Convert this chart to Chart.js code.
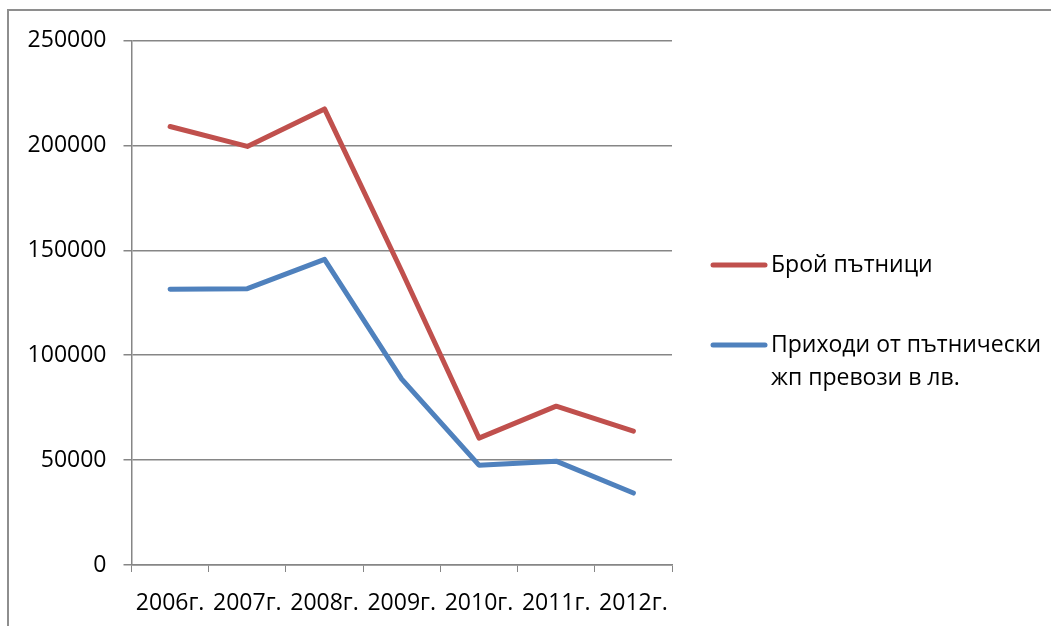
<!DOCTYPE html>
<html>
<head>
<meta charset="utf-8">
<script src="https://cdn.jsdelivr.net/npm/chart.js@4/dist/chart.umd.min.js"></script>
<style>
    body { margin: 0; background: #fff; overflow: hidden; }
    #frame { position: absolute; left: 7px; top: 9px; width: 1200px; height: 800px; border: 2px solid #8e8e8e; }
    #deviceChar { position: absolute; left: 0; top: 0; }
</style>
</head>
<body>
<div id="frame"></div>
<canvas id="deviceChar" width="1051" height="626"></canvas>
<script>
// chart data
const years = ['2006г.', '2007г.', '2008г.', '2009г.', '2010г.', '2011г.', '2012г.'];
const passengers = [209000, 199500, 217400, 140000, 60500, 75700, 63800];
const revenue = [131400, 131700, 145700, 88600, 47600, 49500, 34300];
const seriesLabels = ['Брой пътници', 'Приходи от пътнически жп превози в лв.'];
const seriesColors = ['#C0504D', '#4F81BD'];
const yTicks = [0, 50000, 100000, 150000, 200000, 250000];

const FONT = '"Open Sans", "Noto Sans", sans-serif';
const FONT_SIZE = 23;

// legend on the right, drawn by hand so the long label can wrap
const sideLegend = {
    id: 'sideLegend',
    afterDraw(chart) {
        const ctx = chart.ctx;
        ctx.save();
        ctx.font = FONT_SIZE + 'px ' + FONT;
        ctx.textBaseline = 'middle';
        ctx.fillStyle = '#000';
        let y = 265;
        chart.data.datasets.forEach(ds => {
            // wrap words
            const words = ds.label.split(' ');
            const lines = [];
            let cur = '';
            words.forEach(w => {
                const t = cur ? cur + ' ' + w : w;
                if (ctx.measureText(t).width > 272 && cur) {
                    lines.push(cur);
                    cur = w;
                } else {
                    cur = t;
                }
            });
            lines.push(cur);

            ctx.strokeStyle = ds.borderColor;
            ctx.lineWidth = 5;
            ctx.lineCap = 'round';
            ctx.beginPath();
            ctx.moveTo(713, y);
            ctx.lineTo(765, y);
            ctx.stroke();

            lines.forEach((l, i) => ctx.fillText(l, 771, y + i * 33));
            y += lines.length * 33 + 47;
        });
        ctx.restore();
    }
};

const ctx = document.getElementById('deviceChar').getContext('2d');

new Chart(ctx, {
    type: 'line',
    data: {
        labels: years,
        datasets: [
            {
                label: seriesLabels[0],
                data: passengers,
                borderColor: seriesColors[0],
            },
            {
                label: seriesLabels[1],
                data: revenue,
                borderColor: seriesColors[1],
            },
        ]
    },
    plugins: [sideLegend],
    options: {
        responsive: false,
        animation: false,
        devicePixelRatio: 1,
        layout: {
            padding: { top: 40.5, right: 379, bottom: 0, left: 0 }
        },
        elements: {
            line: { borderWidth: 5, tension: 0, borderCapStyle: 'round', borderJoinStyle: 'round' },
            point: { radius: 0, hoverRadius: 0 }
        },
        plugins: {
            legend: { display: false },
            tooltip: { enabled: false }
        },
        scales: {
            x: {
                offset: true,
                grid: {
                    offset: true,
                    drawOnChartArea: false,
                    drawTicks: true,
                    tickLength: 7,
                    color: '#868686',
                },
                border: { color: '#868686', width: 1.5 },
                ticks: {
                    color: '#000',
                    font: { family: FONT, size: FONT_SIZE },
                    padding: 18,
                    maxRotation: 0,
                    autoSkip: false,
                },
                afterFit(scale) { scale.height = 61; }
            },
            y: {
                min: 0,
                max: 250000,
                afterBuildTicks(scale) { scale.ticks = yTicks.map(v => ({ value: v })); },
                grid: {
                    color: '#868686',
                    lineWidth: 1.5,
                    tickLength: 8,
                },
                border: { color: '#868686', width: 1.5 },
                ticks: {
                    color: '#000',
                    font: { family: FONT, size: FONT_SIZE },
                    padding: 17,
                    callback: v => String(v),
                },
                afterFit(scale) { scale.width = 131.5; }
            },
        },
    },
});
</script>
</body>
</html>
